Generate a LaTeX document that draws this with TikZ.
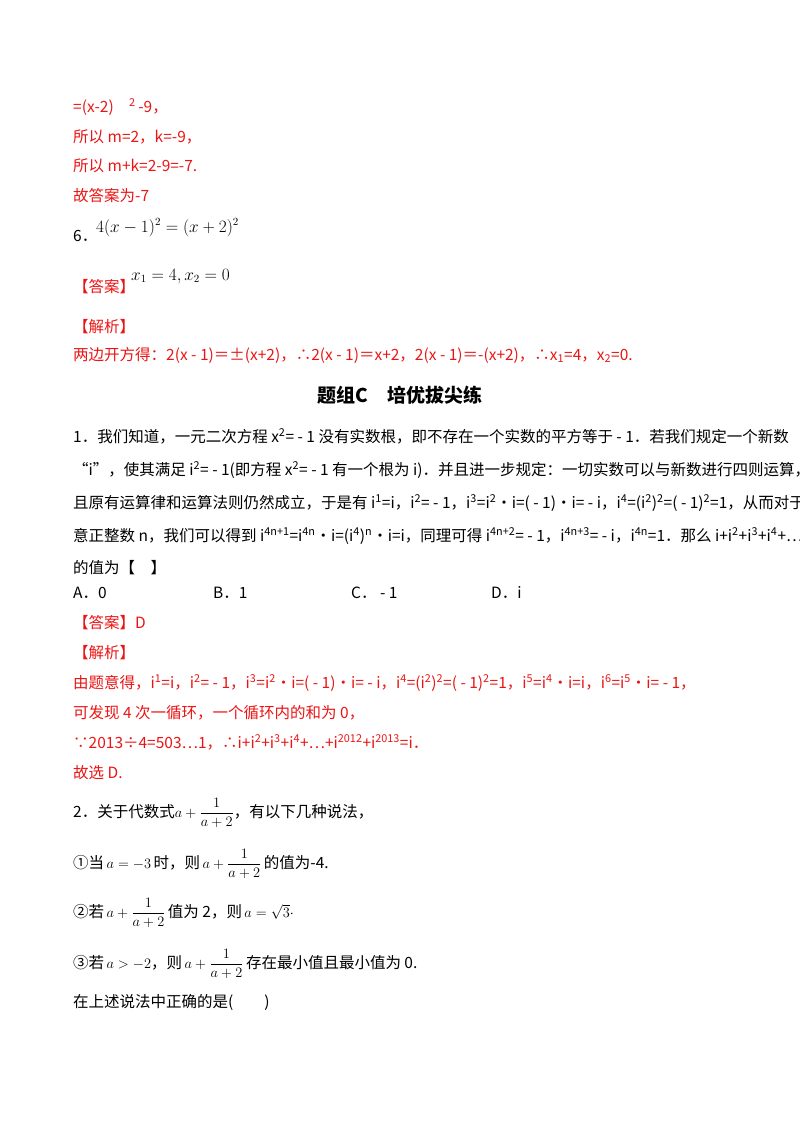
\documentclass[tikz,border=0pt]{standalone}
\usepackage{amsmath}
\usepackage{fontspec}
\setmainfont{Noto Sans CJK SC}
\definecolor{ansred}{RGB}{235,20,20}
\begin{document}
\begin{tikzpicture}[x=1pt,y=-1pt,
  t/.style={anchor=base west,inner sep=0pt,font=\fontsize{15.5}{18}\selectfont},
  r/.style={t,text=ansred},
  m/.style={anchor=base west,inner sep=0pt,font=\fontsize{16}{18}\selectfont}]
\useasboundingbox (0,0) rectangle (800,1132);
\node[r] (l1) at (73,112) {=(x-2)\quad\textsuperscript{2}\,-9，};
\node[r] (l2) at (73,142) {所以 m=2，k=-9，};
\node[r] (l3) at (73,171) {所以 m+k=2-9=-7.};
\node[r] (l4) at (73,201) {故答案为-7};
\node[t] (q6) at (73,241) {6．};
\node[m] (q6m) at (96,232) {$4(x-1)^2=(x+2)^2$};
\node[r] (ans1) at (73,292) {【答案】};
\node[m] (ans1m) at (131,280) {$x_1=4,x_2=0$};
\node[r] (jx1) at (73,332) {【解析】};
\node[r] (l5) at (73,360) {两边开方得：2(\textit{x} - 1)＝±(\textit{x}+2)，∴2(\textit{x} - 1)＝\textit{x}+2，2(\textit{x} - 1)＝-(\textit{x}+2)，∴\textit{x}\textsubscript{1}=4，\textit{x}\textsubscript{2}=0.};
\node[anchor=base,inner sep=0pt,font=\fontsize{19}{22}\selectfont\bfseries] (title) at (400,402) {题组C\quad 培优拔尖练};
\node[t] (p1) at (73,442) {1．我们知道，一元二次方程 x\textsuperscript{2}= - 1 没有实数根，即不存在一个实数的平方等于 - 1．若我们规定一个新数};
\node[t] (p2) at (73,475) {“i”，使其满足 i\textsuperscript{2}= - 1(即方程 x\textsuperscript{2}= - 1 有一个根为 i)．并且进一步规定：一切实数可以与新数进行四则运算，};
\node[t] (p3) at (73,508) {且原有运算律和运算法则仍然成立，于是有 i\textsuperscript{1}=i，i\textsuperscript{2}= - 1，i\textsuperscript{3}=i\textsuperscript{2}•i=( - 1)•i= - i，i\textsuperscript{4}=(i\textsuperscript{2})\textsuperscript{2}=( - 1)\textsuperscript{2}=1，从而对于任};
\node[t] (p4) at (73,541) {意正整数 n，我们可以得到 i\textsuperscript{4n+1}=i\textsuperscript{4n}•i=(i\textsuperscript{4})\textsuperscript{n}•i=i，同理可得 i\textsuperscript{4n+2}= - 1，i\textsuperscript{4n+3}= - i，i\textsuperscript{4n}=1．那么 i+i\textsuperscript{2}+i\textsuperscript{3}+i\textsuperscript{4}+…+i\textsuperscript{2012}+i\textsuperscript{2013}};
\node[t] (p5) at (73,573) {的值为【\quad 】};
\node[t] (oa) at (73,598) {A．0};
\node[t] (ob) at (213,598) {B．1};
\node[t] (oc) at (351,598) {C． - 1};
\node[t] (od) at (491,598) {D．i};
\node[r] (ans2) at (73,628) {【答案】D};
\node[r] (jx2) at (73,658) {【解析】};
\node[r] (s1) at (73,688) {由题意得，i\textsuperscript{1}=i，i\textsuperscript{2}= - 1，i\textsuperscript{3}=i\textsuperscript{2}•i=( - 1)•i= - i，i\textsuperscript{4}=(i\textsuperscript{2})\textsuperscript{2}=( - 1)\textsuperscript{2}=1，i\textsuperscript{5}=i\textsuperscript{4}•i=i，i\textsuperscript{6}=i\textsuperscript{5}•i= - 1，};
\node[r] (s2) at (73,718) {可发现 4 次一循环，一个循环内的和为 0，};
\node[r] (s3) at (73,748) {∵2013÷4=503…1，∴i+i\textsuperscript{2}+i\textsuperscript{3}+i\textsuperscript{4}+…+i\textsuperscript{2012}+i\textsuperscript{2013}=i．};
\node[r] (s4) at (73,778) {故选 D.};
\node[t] (q2) at (73,817) {2．关于代数式$a+\dfrac{1}{a+2}$，有以下几种说法，};
\node[t] (c1) at (73,868) {①当$\,a=-3\,$时，则$\,a+\dfrac{1}{a+2}\,$的值为-4.};
\node[t] (c2) at (73,917) {②若$\,a+\dfrac{1}{a+2}\,$值为 2，则$\,a=\sqrt{3}\cdot$};
\node[t] (c3) at (73,968) {③若$\,a>-2$，则$\,a+\dfrac{1}{a+2}\,$存在最小值且最小值为 0.};
\node[t] (last) at (73,1007) {在上述说法中正确的是(\qquad )};
\end{tikzpicture}
\end{document}
